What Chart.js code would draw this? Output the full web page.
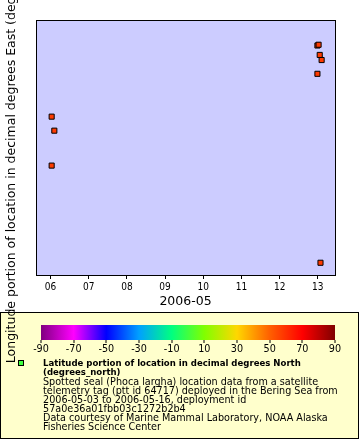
<!DOCTYPE html>
<html><head><meta charset="utf-8">
<script src="https://cdn.jsdelivr.net/npm/chart.js@4"></script>
<style>html,body{margin:0;padding:0;background:#fff}#wrap{width:360px;height:440px;position:relative}canvas{display:block}</style>
</head><body><div id="wrap"><canvas id="c" width="360" height="440"></canvas></div>
<script>
const FONT = '"DejaVu Sans Condensed", "DejaVu Sans", sans-serif';
const TFONT = '"DejaVu Sans", sans-serif';

// Data: day of May 2006, longitude (deg E), latitude (deg N, colour)
const days = [6.03, 6.10, 6.03, 12.99, 13.02, 13.05, 13.10, 12.99, 13.07];
const lons = [-168.79, -169.34, -170.71, -166.00, -165.97, -166.37, -166.57, -167.11, -174.52];
const lats = [58, 58, 58, 58, 58, 58, 58, 58, 58];

const xTickValues = [6, 7, 8, 9, 10, 11, 12, 13];
const xTickLabels = ['06', '07', '08', '09', '10', '11', '12', '13'];
const xTitle = '2006-05';
const yTitle = 'Longitude portion of location in decimal degrees East (degrees_east)';

const cbTicks = [-90, -70, -50, -30, -10, 10, 30, 50, 70, 90];
const cbColors = ['#800080', '#ff00ff', '#0000ff', '#00a0ff', '#00ff80', '#80ff00', '#ffd700', '#ff6000', '#ff0000', '#800000'];

const legendTitle = ['Latitude portion of location in decimal degrees North', '(degrees_north)'];
const legendLines = [
  'Spotted seal (Phoca largha) location data from a satellite',
  'telemetry tag (ptt id 64717) deployed in the Bering Sea from',
  '2006-05-03 to 2006-05-16, deployment id',
  '57a0e36a01fbb03c1272b2b4',
  'Data courtesy of Marine Mammal Laboratory, NOAA Alaska',
  'Fisheries Science Center'
];

function hex(h){return [parseInt(h.slice(1,3),16),parseInt(h.slice(3,5),16),parseInt(h.slice(5,7),16)];}
function colorFor(v){
  if (v <= cbTicks[0]) return cbColors[0];
  for (let i = 0; i < cbTicks.length - 1; i++) {
    if (v <= cbTicks[i+1]) {
      const t = (v - cbTicks[i]) / (cbTicks[i+1] - cbTicks[i]);
      const a = hex(cbColors[i]), b = hex(cbColors[i+1]);
      return 'rgb(' + a.map((c, k) => Math.round(c + (b[k]-c)*t)).join(',') + ')';
    }
  }
  return cbColors[cbColors.length-1];
}

const points = days.map((d, i) => ({x: d, y: lons[i]}));
const pointColors = lats.map(colorFor);

const decor = {
  id: 'decor',
  beforeDraw(chart) {
    const ctx = chart.ctx, a = chart.chartArea;
    ctx.save();
    ctx.fillStyle = '#ffffff';
    ctx.fillRect(0, 0, chart.width, chart.height);
    ctx.fillStyle = '#ccccff';
    ctx.fillRect(a.left, a.top, a.right - a.left, a.bottom - a.top);
    ctx.fillStyle = '#ffffcc';
    ctx.fillRect(0, 312, 359, 127);
    ctx.strokeStyle = '#000';
    ctx.lineWidth = 1;
    ctx.strokeRect(0.5, 312.5, 358, 126);
    const cx0 = 41, cx1 = 335, cy0 = 325, cy1 = 340;
    const g = ctx.createLinearGradient(cx0, 0, cx1, 0);
    cbColors.forEach((c, i) => g.addColorStop(i / (cbColors.length - 1), c));
    ctx.fillStyle = g;
    ctx.fillRect(cx0, cy0, cx1 - cx0, cy1 - cy0);
    ctx.font = '10px ' + FONT;
    const rs = Math.min(11, 10 * 295 / ctx.measureText(legendLines[1]).width);
    ctx.font = 'bold 10px ' + FONT;
    const bs = Math.min(11, 10 * 258 / ctx.measureText(legendTitle[0]).width);
    ctx.fillStyle = '#000';
    ctx.font = rs.toFixed(2) + 'px ' + FONT;
    ctx.textAlign = 'center';
    ctx.textBaseline = 'middle';
    cbTicks.forEach((t, i) => {
      const x = cx0 + (cx1 - cx0) * i / (cbTicks.length - 1);
      ctx.fillRect(Math.round(x) - 0.5, cy1, 1, 3);
      ctx.fillText(String(t), x, 349.5);
    });
    ctx.fillStyle = '#40ff40';
    ctx.fillRect(18, 360, 6, 6);
    ctx.strokeStyle = '#000';
    ctx.strokeRect(18.5, 360.5, 5, 5);
    ctx.fillStyle = '#000';
    ctx.textAlign = 'left';
    let y = 363.5;
    const step = 9.15;
    ctx.font = 'bold ' + bs.toFixed(2) + 'px ' + FONT;
    legendTitle.forEach(l => { ctx.fillText(l, 43, y); y += step; });
    ctx.font = rs.toFixed(2) + 'px ' + FONT;
    legendLines.forEach(l => { ctx.fillText(l, 43, y); y += step; });
    ctx.restore();
  },
  afterDatasetsDraw(chart) {
    const ctx = chart.ctx, a = chart.chartArea;
    ctx.save();
    ctx.strokeStyle = '#000';
    ctx.lineWidth = 1;
    ctx.strokeRect(a.left + 0.5, a.top + 0.5, a.right - a.left, a.bottom - a.top);
    ctx.restore();
  }
};

new Chart(document.getElementById('c'), {
  type: 'scatter',
  data: {
    datasets: [{
      data: points,
      pointStyle: 'rect',
      pointRadius: 3.6,
      pointHoverRadius: 3.6,
      pointBackgroundColor: pointColors,
      pointBorderColor: '#000',
      pointBorderWidth: 1
    }]
  },
  options: {
    responsive: false,
    animation: false,
    events: [],
    clip: false,
    layout: { padding: { top: 20, right: 25, bottom: 131, left: 0 } },
    plugins: { legend: { display: false }, tooltip: { enabled: false }, title: { display: false } },
    scales: {
      x: {
        type: 'linear',
        min: 5.62, max: 13.45,
        afterBuildTicks(s) { s.ticks = xTickValues.map(v => ({ value: v })); },
        afterFit(s) { s.height = 34; },
        ticks: {
          color: '#000',
          font: { family: FONT, size: 10 },
          padding: 2,
          maxRotation: 0,
          autoSkip: false,
          callback(v) { const i = xTickValues.indexOf(v); return i >= 0 ? xTickLabels[i] : ''; }
        },
        grid: { display: true, drawOnChartArea: false, drawTicks: true, tickLength: 4, color: '#000' },
        border: { display: false },
        title: { display: true, text: xTitle, color: '#000', font: { family: TFONT, size: 12.5 }, padding: { top: 0, bottom: 0 } }
      },
      y: {
        type: 'linear',
        min: -175, max: -165,
        afterFit(s) { s.width = 36; },
        ticks: { display: false },
        grid: { display: false },
        border: { display: false },
        title: { display: true, text: yTitle, color: '#000', font: { family: TFONT, size: 12.5 }, padding: { top: 4.5, bottom: 0 } }
      }
    }
  },
  plugins: [decor]
});
</script>
</body></html>
